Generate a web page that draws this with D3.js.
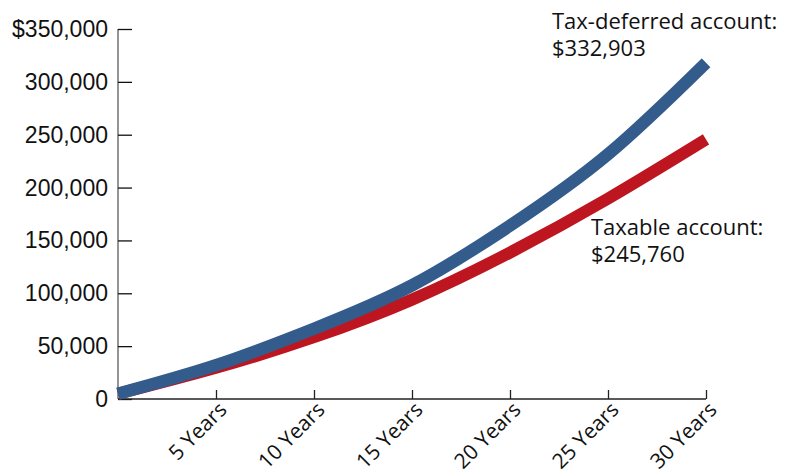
<!DOCTYPE html>
<html><head><meta charset="utf-8">
<script src="https://cdn.jsdelivr.net/npm/d3@7"></script>
<style>body{margin:0;background:#fff}</style>
</head><body>
<svg id="c" width="793" height="473"></svg>
<script>
const years = [0, 5, 10, 15, 20, 25, 30];
const taxDeferred = [5000, 32000, 66500, 107500, 164000, 231500, 318000];
const taxable = [5000, 29500, 58500, 94000, 138500, 189500, 245500];
const yTicks = [0, 50000, 100000, 150000, 200000, 250000, 300000, 350000];
const xTicks = [5, 10, 15, 20, 25, 30];
const labelDeferred = ["Tax-deferred account:", "$332,903"];
const labelTaxable = ["Taxable account:", "$245,760"];

const svg = d3.select("#c");
const x = d3.scaleLinear().domain([0, 30]).range([118, 706]);
const y = d3.scaleLinear().domain([0, 350000]).range([399, 29]);
const labelFont = "'Open Sans', sans-serif";

// y axis
const ya = svg.append("g").attr("transform", "translate(118,0)")
  .call(d3.axisRight(y).tickValues(yTicks).tickSize(14).tickFormat(""));
ya.select(".domain").attr("stroke", "#7a7a7a").attr("stroke-width", 1.6).attr("d", `M0,${y(350000)}V${y(0)}`);
ya.selectAll(".tick line").attr("stroke", "#111").attr("stroke-width", 1.3);
svg.append("g").selectAll("text").data(yTicks).join("text")
  .attr("x", 108).attr("y", d => y(d) + 8)
  .attr("text-anchor", "end")
  .attr("font-family", "Liberation Sans, Arial, sans-serif").attr("font-size", 23).attr("fill", "#111")
  .text(d => d === 350000 ? "$" + d3.format(",")(d) : d3.format(",")(d));

// x axis
const xa = svg.append("g").attr("transform", "translate(0,399)")
  .call(d3.axisTop(x).tickValues(xTicks).tickSize(9).tickFormat(""));
xa.select(".domain").attr("stroke", "#222").attr("stroke-width", 1.4).attr("d", `M${x(0)},0H${x(30)}`);
xa.selectAll(".tick line").attr("stroke", "#222").attr("stroke-width", 1.3);
svg.append("g").selectAll("text").data(xTicks).join("text")
  .attr("transform", d => `translate(${x(d) + 12},${411}) rotate(-45)`)
  .attr("text-anchor", "end")
  .attr("font-family", labelFont).attr("font-size", 21).attr("fill", "#111")
  .text(d => d + " Years");

// lines
const line = d3.line().x((d, i) => x(years[i])).y(d => y(d)).curve(d3.curveNatural);
svg.append("path").datum(taxable).attr("d", line)
  .attr("fill", "none").attr("stroke", "#bd1621").attr("stroke-width", 12).attr("stroke-linecap", "butt");
svg.append("path").datum(taxDeferred).attr("d", line)
  .attr("fill", "none").attr("stroke", "#335b8b").attr("stroke-width", 12.5).attr("stroke-linecap", "butt");

// labels
function label(lines, lx, ly) {
  const t = svg.append("text").attr("font-family", labelFont).attr("font-size", 22).attr("fill", "#111");
  lines.forEach((s, i) => t.append("tspan").attr("x", lx).attr("y", ly + i * 27).text(s));
}
label(labelDeferred, 552, 29);
label(labelTaxable, 591, 235);
</script>
</body></html>
